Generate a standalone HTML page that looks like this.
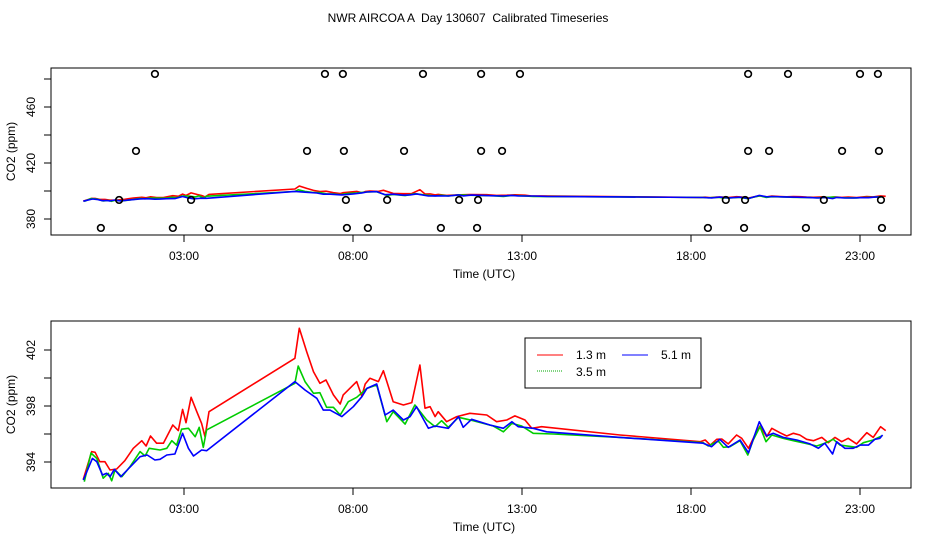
<!DOCTYPE html>
<html><head><meta charset="utf-8"><style>
html,body{margin:0;padding:0;background:#fff;}
svg{display:block;font-family:"Liberation Sans",Arial,sans-serif;}
</style></head><body>
<svg id="chart" width="936" height="540" viewBox="0 0 936 540" xmlns="http://www.w3.org/2000/svg">
<rect width="936" height="540" fill="#fff"/>
<text x="468" y="22" font-size="12" text-anchor="middle" style="white-space:pre">NWR AIRCOA A  Day 130607  Calibrated Timeseries</text>
<g id="top"></g>
<g id="bot"></g>
<g>
<rect x="525" y="338" width="176" height="50" fill="#fff" stroke="#000" stroke-width="1"/>
<line x1="537" y1="355" x2="563" y2="355" stroke="#f00" stroke-width="1"/>
<text x="576" y="359" font-size="12">1.3 m</text>
<line x1="622" y1="355" x2="648" y2="355" stroke="#00f" stroke-width="1"/>
<text x="661" y="359" font-size="12">5.1 m</text>
<line x1="537" y1="371" x2="563" y2="371" stroke="#0a0" stroke-width="1" stroke-dasharray="1,1"/>
<text x="576" y="376" font-size="12">3.5 m</text>
</g>
</svg>
<script>
const xTickLabels = ["03:00","08:00","13:00","18:00","23:00"];
const xTickHours = [3,8,13,18,23];
const redH = [0.02,0.27,0.37,0.51,0.66,0.81,1.01,1.25,1.50,1.75,1.88,2.01,2.19,2.39,2.67,2.83,2.96,3.06,3.21,3.38,3.52,3.62,3.74,6.28,6.41,6.63,6.83,7.02,7.20,7.42,7.62,7.71,8.11,8.26,8.36,8.50,8.75,8.90,9.19,9.49,9.74,9.98,10.13,10.28,10.43,10.52,10.77,11.07,11.46,11.96,12.25,12.55,12.79,13.09,13.29,13.58,15.90,18.27,18.42,18.57,18.76,18.91,19.10,19.35,19.50,19.70,19.89,20.04,20.24,20.39,20.63,20.83,21.03,21.22,21.42,21.62,21.87,22.06,22.26,22.46,22.65,22.90,23.20,23.39,23.61,23.76];
const redV = [392.76,394.74,394.69,394.02,394.02,393.43,393.5,394.09,394.98,395.52,395.14,395.86,395.34,395.34,396.64,396.24,397.76,396.81,398.62,397.59,396.76,395.81,397.59,401.41,403.55,401.88,400.45,399.62,399.86,398.79,398.14,398.79,399.74,398.71,399.57,399.98,399.74,400.52,398.31,398.07,398.24,400.93,397.84,397.95,397.24,397.59,396.88,397.24,397.48,397.36,396.88,397,397.29,397,396.41,396.52,395.93,395.45,395.57,395.21,395.62,395.64,395.29,395.93,395.69,394.98,395.93,396.57,395.81,396.41,396.09,395.86,396.05,395.93,395.62,395.52,395.76,395.38,395.76,395.45,395.69,395.29,396.09,395.76,396.52,396.24];
const greenH = [0.05,0.25,0.42,0.61,0.76,0.86,0.96,1.16,1.40,1.70,1.85,1.97,2.29,2.49,2.64,2.78,2.93,3.13,3.33,3.45,3.57,3.67,6.28,6.38,6.58,6.83,7.02,7.22,7.42,7.62,7.86,8.11,8.41,8.70,9.00,9.19,9.54,9.83,10.18,10.43,10.62,10.82,11.12,11.56,12.15,12.45,12.70,12.99,13.33,13.93,15.90,18.36,18.51,18.81,18.96,19.15,19.45,19.68,19.84,20.04,20.22,20.39,20.73,21.03,21.37,21.72,21.96,22.21,22.41,22.90,23.10,23.39,23.64];
const greenV = [392.59,394.64,394.26,392.84,393.19,392.66,393.43,392.95,393.66,394.74,394.43,394.98,394.86,394.98,395.52,395.21,396.34,396.41,395.81,396.48,395.05,396.29,399.62,400.86,399.74,398.91,398.95,397.91,397.91,397.36,398.31,398.62,399.26,399.5,396.88,397.59,396.71,398.07,397,396.52,396.95,396.48,397.19,396.95,396.57,396.16,396.76,396.57,396.05,396,395.76,395.38,395.14,395.5,395.05,395.09,395.52,394.5,395.57,396.52,395.45,395.93,395.69,395.52,395.34,395.14,395.34,395.62,395.21,395.05,395.38,395.57,395.86];
const blueH = [0.02,0.29,0.42,0.59,0.71,0.81,0.94,1.13,1.35,1.70,1.91,2.14,2.29,2.49,2.73,2.96,3.13,3.28,3.52,3.67,6.28,6.58,6.93,7.12,7.32,7.67,8.01,8.26,8.41,8.70,8.95,9.19,9.49,9.69,9.88,10.23,10.43,10.82,11.12,11.26,11.51,12.05,12.45,12.70,12.89,13.33,13.73,15.90,18.36,18.61,18.85,19.10,19.45,19.70,20.02,20.24,20.43,20.73,21.13,21.52,21.77,21.96,22.19,22.31,22.55,22.80,23.00,23.25,23.44,23.59,23.67];
const blueV = [392.71,394.26,394.02,393.07,393.19,392.95,393.48,392.95,393.5,394.38,394.5,394.14,394.19,394.5,394.57,396.05,394.98,394.43,394.86,394.81,399.74,399.14,398.55,397.71,397.71,397.24,397.95,398.66,399.26,399.57,397.36,397.71,397,397.24,397.95,396.41,396.57,396.41,397.24,396.48,397.05,396.64,396.41,396.88,396.52,396.41,396.16,395.76,395.34,395.09,395.62,395.05,395.57,394.66,396.88,395.86,396.05,395.76,395.57,395.29,394.98,395.34,394.57,395.45,394.98,394.98,395.21,395.21,395.62,395.69,395.93];
const flagH = [2.14,7.17,7.70,10.07,11.79,12.94,19.69,20.87,23.00,23.53, 1.58,6.64,7.73,9.51,11.79,12.41,19.69,20.31,22.47,23.56, 1.08,3.21,7.79,9.01,11.14,11.70,19.03,19.60,21.93,23.62, 0.54,2.67,3.74,7.82,8.44,10.60,11.67,18.50,19.57,21.40,23.65];
const flagV = [483.6,483.6,483.6,483.6,483.6,483.6,483.6,483.6,483.6,483.6, 428.6,428.6,428.6,428.6,428.6,428.6,428.6,428.6,428.6,428.6, 393.6,393.6,393.6,393.6,393.6,393.6,393.6,393.6,393.6,393.6, 373.6,373.6,373.6,373.6,373.6,373.6,373.6,373.6,373.6,373.6,373.6];
const topYTicks = [380,400,420,440,460,480];
const topYLabels = [380,420,460];
const botYTicks = [394,396,398,400,402];
const botYLabels = [394,398,402];

const NS = "http://www.w3.org/2000/svg";
function mk(parent, tag, attrs, text) {
  const e = document.createElementNS(NS, tag);
  for (const k in attrs) e.setAttribute(k, attrs[k]);
  if (text !== undefined) e.textContent = text;
  parent.appendChild(e);
  return e;
}
const xScale = h => 82.6 + h * 33.8;
const L = 51, R = 911;

function panel(g, top, bottom, yScale, yTicks, yLabels, name, circles) {
  const series = [[redH, redV, "#f00", "series-1-3m"], [greenH, greenV, "#0c0", "series-3-5m"], [blueH, blueV, "#00f", "series-5-1m"]];
  series.forEach(s => {
    const pts = s[0].map((h, i) => xScale(h).toFixed(1) + "," + yScale(s[1][i]).toFixed(1)).join(" ");
    const pl = mk(g, "polyline", {points: pts, fill: "none", stroke: s[2], "stroke-width": 1.6, "stroke-linejoin": "round"});
    
    
  });
  if (circles) {
    flagH.forEach((h, i) => {
      const c = mk(g, "circle", {cx: xScale(h), cy: yScale(flagV[i]), r: 3.3, fill: "none", stroke: "#000", "stroke-width": 1.6});
      
      
    });
  }
  const box = mk(g, "rect", {x: L, y: top, width: R - L, height: bottom - top, fill: "none", stroke: "#000", "stroke-width": 1});
  
  
  xTickHours.forEach((h, i) => {
    const x = xScale(h);
    mk(g, "line", {x1: x, y1: bottom, x2: x, y2: bottom + 7, stroke: "#000"});
    const t = mk(g, "text", {x: x, y: bottom + 25, "font-size": 12, "text-anchor": "middle"}, xTickLabels[i]);
    
    
  });
  yTicks.forEach(v => {
    const y = yScale(v);
    mk(g, "line", {x1: L, y1: y, x2: L - 7, y2: y, stroke: "#000"});
  });
  yLabels.forEach(v => {
    const y = yScale(v);
    const t = mk(g, "text", {x: 0, y: 0, "font-size": 12, "text-anchor": "middle", transform: "translate(35," + y + ") rotate(-90)"}, String(v));
    
    
  });
  const xt = mk(g, "text", {x: 484, y: bottom + 43, "font-size": 12, "text-anchor": "middle"}, "Time (UTC)");
  
  
  const yt = mk(g, "text", {x: 0, y: 0, "font-size": 12, "text-anchor": "middle", transform: "translate(15," + ((top + bottom) / 2) + ") rotate(-90)"}, "CO2 (ppm)");
  
  
}
panel(document.getElementById("top"), 68, 235, v => 219 - (v - 380) * 1.4, topYTicks, topYLabels, "top", true);
panel(document.getElementById("bot"), 321, 488, v => 462 - (v - 394) * 14, botYTicks, botYLabels, "bottom", false);
</script>
</body></html>
